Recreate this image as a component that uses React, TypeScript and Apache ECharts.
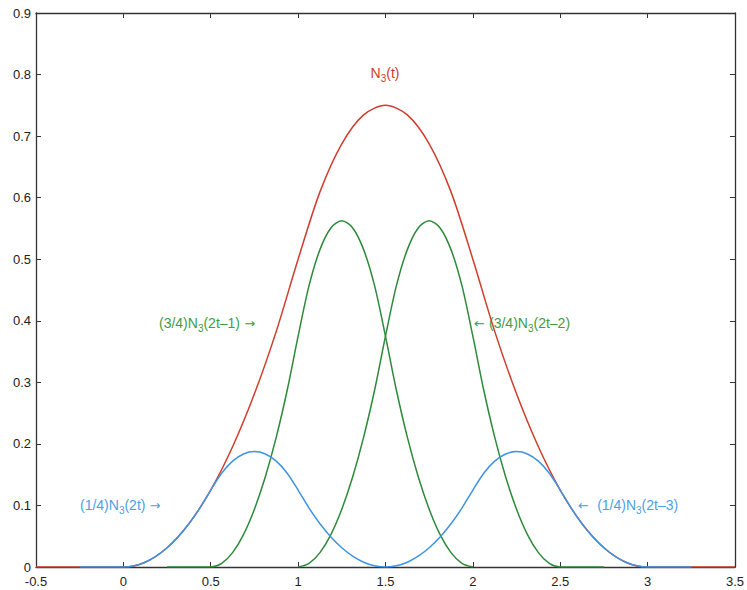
import React, { useEffect, useRef } from "react";
import * as echarts from "echarts";

// N3(t) — red
const redT = [-0.5, 0, 0.125, 0.25, 0.375, 0.5, 0.625, 0.75, 0.875, 1, 1.125, 1.25, 1.375, 1.5, 1.625, 1.75, 1.875, 2, 2.125, 2.25, 2.375, 2.5, 2.625, 2.75, 2.875, 3, 3.5];
const redY = [0, 0, 0.0078, 0.0313, 0.0703, 0.125, 0.1953, 0.2813, 0.3828, 0.5, 0.6094, 0.6875, 0.7344, 0.75, 0.7344, 0.6875, 0.6094, 0.5, 0.3828, 0.2813, 0.1953, 0.125, 0.0703, 0.0313, 0.0078, 0, 0];

// (3/4)N3(2t-1) — green
const g1T = [0.25, 0.5, 0.5625, 0.625, 0.6875, 0.75, 0.8125, 0.875, 0.9375, 1, 1.0625, 1.125, 1.1875, 1.25, 1.3125, 1.375, 1.4375, 1.5, 1.5625, 1.625, 1.6875, 1.75, 1.8125, 1.875, 1.9375, 2];
const g1Y = [0, 0, 0.0059, 0.0234, 0.0527, 0.0938, 0.1465, 0.2109, 0.2871, 0.375, 0.457, 0.5156, 0.5508, 0.5625, 0.5508, 0.5156, 0.457, 0.375, 0.2871, 0.2109, 0.1465, 0.0938, 0.0527, 0.0234, 0.0059, 0];

// (3/4)N3(2t-2) — green
const g2T = [1, 1.0625, 1.125, 1.1875, 1.25, 1.3125, 1.375, 1.4375, 1.5, 1.5625, 1.625, 1.6875, 1.75, 1.8125, 1.875, 1.9375, 2, 2.0625, 2.125, 2.1875, 2.25, 2.3125, 2.375, 2.4375, 2.5, 2.75];
const g2Y = [0, 0.0059, 0.0234, 0.0527, 0.0938, 0.1465, 0.2109, 0.2871, 0.375, 0.457, 0.5156, 0.5508, 0.5625, 0.5508, 0.5156, 0.457, 0.375, 0.2871, 0.2109, 0.1465, 0.0938, 0.0527, 0.0234, 0.0059, 0, 0];

// (1/4)N3(2t) — blue
const b1T = [-0.25, 0, 0.0625, 0.125, 0.1875, 0.25, 0.3125, 0.375, 0.4375, 0.5, 0.5625, 0.625, 0.6875, 0.75, 0.8125, 0.875, 0.9375, 1, 1.0625, 1.125, 1.1875, 1.25, 1.3125, 1.375, 1.4375, 1.5];
const b1Y = [0, 0, 0.002, 0.0078, 0.0176, 0.0313, 0.0488, 0.0703, 0.0957, 0.125, 0.1523, 0.1719, 0.1836, 0.1875, 0.1836, 0.1719, 0.1523, 0.125, 0.0957, 0.0703, 0.0488, 0.0313, 0.0176, 0.0078, 0.002, 0];

// (1/4)N3(2t-3) — blue
const b2T = [1.5, 1.5625, 1.625, 1.6875, 1.75, 1.8125, 1.875, 1.9375, 2, 2.0625, 2.125, 2.1875, 2.25, 2.3125, 2.375, 2.4375, 2.5, 2.5625, 2.625, 2.6875, 2.75, 2.8125, 2.875, 2.9375, 3, 3.25];
const b2Y = [0, 0.002, 0.0078, 0.0176, 0.0313, 0.0488, 0.0703, 0.0957, 0.125, 0.1523, 0.1719, 0.1836, 0.1875, 0.1836, 0.1719, 0.1523, 0.125, 0.0957, 0.0703, 0.0488, 0.0313, 0.0176, 0.0078, 0.002, 0, 0];

const RED = "#cf3d2c";
const GREEN = "#2d8a3a";
const BLUE = "#3d94e3";
const GREEN_T = "#3f9c3f";
const BLUE_T = "#4b9fe8";
const FONT = "Liberation Sans, Arial, sans-serif";

const zip = (xs: number[], ys: number[]) => xs.map((x, i) => [x, ys[i]]);

function richStyles(color: string) {
  return {
    a: { fontSize: 14, lineHeight: 20, verticalAlign: "middle", fill: color, fontFamily: FONT },
    s: { fontSize: 10, lineHeight: 10, verticalAlign: "bottom", fill: color, fontFamily: FONT },
    r: { fontSize: 13, lineHeight: 20, verticalAlign: "middle", fill: color, fontFamily: "DejaVu Sans" },
  };
}

function label(x: number, y: number, text: string, color: string, align: string) {
  return {
    type: "text",
    x,
    y,
    style: {
      text,
      align,
      verticalAlign: "middle",
      fill: color,
      rich: richStyles(color),
    },
  };
}

export default function App() {
  const ref = useRef<HTMLDivElement>(null);
  useEffect(() => {
    if (!ref.current) return;
    const chart = echarts.init(ref.current, undefined, { renderer: "svg" });
    const lineS = (data: number[][], color: string, z: number) => ({
      type: "line",
      data,
      smooth: 0.3,
      showSymbol: false,
      symbol: "none",
      lineStyle: { color, width: 1.5 },
      z,
    });
    const axisLine = { show: true, onZero: false, lineStyle: { color: "#333", width: 1.3 } };
    const tick = { show: true, inside: true, length: 5, lineStyle: { color: "#333", width: 1 } };
    const lblStyle = { color: "#222", fontSize: 13, fontFamily: FONT };
    chart.setOption({
      animation: false,
      backgroundColor: "#fff",
      grid: { left: 36, right: 11, top: 13, bottom: 23, containLabel: false },
      xAxis: [
        { type: "value", min: -0.5, max: 3.5, interval: 0.5, axisLine, axisTick: tick, splitLine: { show: false }, axisLabel: { ...lblStyle, margin: 8 } },
        { type: "value", position: "top", min: -0.5, max: 3.5, interval: 0.5, axisLine, axisTick: tick, splitLine: { show: false }, axisLabel: { show: false } },
      ],
      yAxis: [
        { type: "value", min: 0, max: 0.9, interval: 0.1, axisLine, axisTick: tick, splitLine: { show: false }, axisLabel: { ...lblStyle, margin: 5, lineHeight: 13 } },
        { type: "value", position: "right", min: 0, max: 0.9, interval: 0.1, axisLine, axisTick: tick, splitLine: { show: false }, axisLabel: { show: false } },
      ],
      series: [
        lineS(zip(redT, redY), RED, 2),
        lineS(zip(g1T, g1Y), GREEN, 3),
        lineS(zip(g2T, g2Y), GREEN, 3),
        lineS(zip(b1T, b1Y), BLUE, 4),
        lineS(zip(b2T, b2Y), BLUE, 4),
      ],
      graphic: [
        label(385, 73, "{a|N}{s|3}{a|(t)}", RED, "center"),
        label(159, 323, "{a|(3/4)N}{s|3}{a|(2t–1)}{r| →}", GREEN_T, "left"),
        label(474, 323, "{r|← }{a|(3/4)N}{s|3}{a|(2t–2)}", GREEN_T, "left"),
        label(80, 505, "{a|(1/4)N}{s|3}{a|(2t)}{r| →}", BLUE_T, "left"),
        label(578, 505, "{r|←  }{a|(1/4)N}{s|3}{a|(2t–3)}", BLUE_T, "left"),
      ],
    });
    return () => chart.dispose();
  }, []);
  return <div ref={ref} style={{ position: "absolute", left: 0, top: 0, width: 747, height: 590 }} />;
}
